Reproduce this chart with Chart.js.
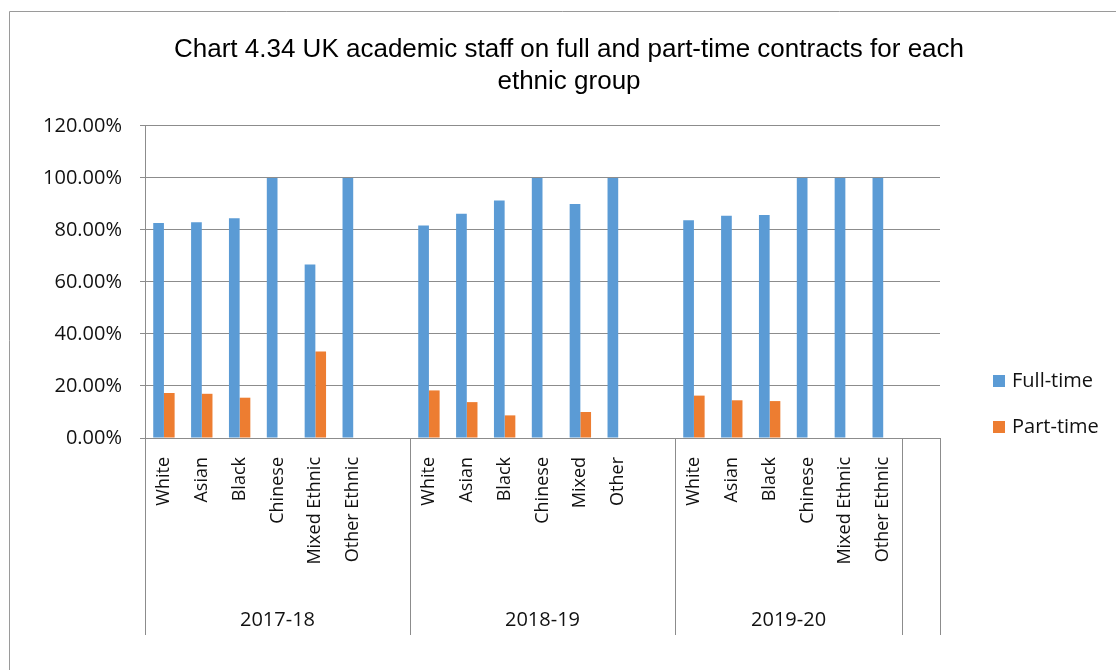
<!DOCTYPE html>
<html>
<head>
<meta charset="utf-8">
<title>UK academic staff on full and part-time contracts</title>
<script src="https://cdn.jsdelivr.net/npm/chart.js@4.4.1/dist/chart.umd.min.js"></script>
<style>
    html, body { margin: 0; padding: 0; background: #fff; }
    #wrap { width: 1116px; height: 670px; }
</style>
</head>
<body>
<div id="wrap"><canvas id="staffChart" width="1116" height="670"></canvas></div>
<script>
// Категории (пустая строка = пустой слот, как в исходном Excel)
const categories = [
    'White', 'Asian', 'Black', 'Chinese', 'Mixed Ethnic', 'Other Ethnic', '',
    'White', 'Asian', 'Black', 'Chinese', 'Mixed', 'Other', '',
    'White', 'Asian', 'Black', 'Chinese', 'Mixed Ethnic', 'Other Ethnic', ''
];
const years = ['2017-18', '2018-19', '2019-20', ''];
const yearSizes = [7, 7, 6, 1];

const fullTime = [
    82.7, 83.0, 84.5, 100, 66.7, 100, null,
    81.7, 86.2, 91.3, 100, 90.0, 100, null,
    83.7, 85.5, 85.8, 100, 100, 100, null
];
const partTime = [
    17.3, 17.0, 15.5, 0, 33.3, 0, null,
    18.3, 13.8, 8.7, 0, 10.0, 0, null,
    16.3, 14.5, 14.2, 0, 0, 0, null
];
const yTicks = [0, 20, 40, 60, 80, 100, 120];

const fontFamily = "'Open Sans', 'Noto Sans', sans-serif";

// рамка, разделители групп, подписи лет, легенда
const extras = {
    id: 'extras',
    beforeDraw(chart) {
        const ctx = chart.ctx;
        ctx.save();
        ctx.strokeStyle = '#9a9a9a';
        ctx.lineWidth = 1;
        ctx.beginPath();
        ctx.moveTo(9.5, 670);
        ctx.lineTo(9.5, 11.5);
        ctx.lineTo(1116, 11.5);
        ctx.stroke();
        ctx.restore();
    },
    afterDraw(chart) {
        const ctx = chart.ctx;
        const x = chart.scales.x;
        const bottom = chart.chartArea.bottom;
        const slot = x.width / categories.length;
        ctx.save();
        ctx.strokeStyle = '#8c8c8c';
        ctx.lineWidth = 1;
        ctx.fillStyle = '#111';
        ctx.font = "20px " + fontFamily;
        ctx.textAlign = 'center';
        ctx.textBaseline = 'middle';
        let start = 0;
        const edges = [0];
        yearSizes.forEach((n, i) => {
            const l = x.left + start * slot;
            const r = x.left + (start + n) * slot;
            if (years[i]) ctx.fillText(years[i], (l + r) / 2, 620);
            start += n;
            edges.push(start);
        });
        ctx.beginPath();
        edges.forEach(e => {
            const px = Math.round(x.left + e * slot) + 0.5;
            ctx.moveTo(px, bottom);
            ctx.lineTo(px, 635);
        });
        ctx.stroke();

        // легенда
        ctx.textAlign = 'left';
        chart.data.datasets.forEach((ds, i) => {
            const y = 381 + i * 46;
            ctx.fillStyle = ds.backgroundColor;
            ctx.fillRect(993, y - 6, 12, 12);
            ctx.fillStyle = '#111';
            ctx.fillText(ds.label, 1012, y);
        });
        ctx.restore();
    }
};

const ctx = document.getElementById('staffChart').getContext('2d');
const staffChart = new Chart(ctx, {
    type: 'bar',
    data: {
        labels: categories,
        datasets: [{
            label: 'Full-time',
            data: fullTime,
            backgroundColor: '#5b9bd5'
        }, {
            label: 'Part-time',
            data: partTime,
            backgroundColor: '#ed7d31'
        }]
    },
    options: {
        responsive: false,
        animation: false,
        categoryPercentage: 0.565,
        barPercentage: 1,
        layout: {
            padding: { left: 22, right: 0, top: 0, bottom: 0 }
        },
        plugins: {
            legend: { display: false },
            tooltip: { enabled: false },
            title: {
                display: true,
                text: ['Chart 4.34 UK academic staff on full and part-time contracts for each', 'ethnic group'],
                color: '#000',
                font: { family: "'Liberation Sans', Arial, sans-serif", size: 26, weight: 'normal', lineHeight: 1.23 },
                padding: { top: 34, bottom: 28 }
            }
        },
        scales: {
            x: {
                grid: { display: false },
                border: { display: true, color: '#8c8c8c' },
                ticks: {
                    autoSkip: false,
                    minRotation: 90,
                    maxRotation: 90,
                    padding: 11,
                    color: '#111',
                    font: { family: fontFamily, size: 18 }
                },
                afterFit: (scale) => { scale.height = 232; }
            },
            y: {
                min: 0,
                max: 120,
                afterBuildTicks: (scale) => { scale.ticks = yTicks.map(v => ({ value: v })); },
                grid: { color: '#8c8c8c', tickLength: 5 },
                border: { display: true, color: '#8c8c8c' },
                ticks: {
                    padding: 18,
                    color: '#111',
                    font: { family: fontFamily, size: 20 },
                    callback: (v) => v.toFixed(2) + '%'
                },
                afterFit: (scale) => { scale.width = 123; }
            },
            // пустое место справа под легенду
            legendSpace: {
                type: 'linear',
                position: 'right',
                grid: { display: false },
                border: { display: false },
                ticks: { display: false },
                afterFit: (scale) => { scale.width = 176; }
            }
        }
    },
    plugins: [extras]
});
</script>
</body>
</html>
